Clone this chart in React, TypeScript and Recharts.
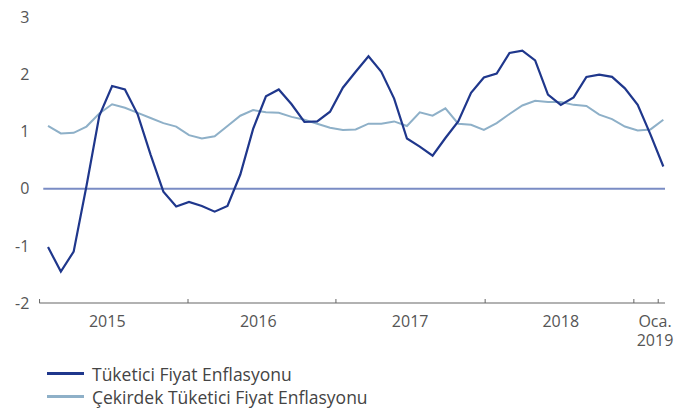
import React from "react";
import { LineChart, Line, XAxis, YAxis, ReferenceLine } from "recharts";

const monthNames = ["Oca", "Şub", "Mar", "Nis", "May", "Haz", "Tem", "Ağu", "Eyl", "Eki", "Kas", "Ara"];
const years = [2015, 2016, 2017, 2018, 2019];

// Tüketici Fiyat Enflasyonu, Oca 2015 - Oca 2019
const cpi = [
  -1.02, -1.45, -1.1, 0.05, 1.28, 1.8, 1.74, 1.3, 0.6, -0.05, -0.31, -0.23,
  -0.3, -0.4, -0.3, 0.25, 1.05, 1.62, 1.74, 1.48, 1.17, 1.18, 1.35, 1.77,
  2.05, 2.32, 2.05, 1.58, 0.88, 0.74, 0.58, 0.89, 1.18, 1.68, 1.95, 2.02,
  2.38, 2.42, 2.25, 1.65, 1.47, 1.6, 1.96, 2.0, 1.96, 1.76, 1.47, 0.95,
  0.39,
];

// Çekirdek Tüketici Fiyat Enflasyonu
const core = [
  1.1, 0.97, 0.98, 1.09, 1.32, 1.48, 1.42, 1.33, 1.24, 1.15, 1.09, 0.94,
  0.88, 0.92, 1.1, 1.28, 1.38, 1.34, 1.33, 1.26, 1.21, 1.14, 1.07, 1.03,
  1.04, 1.14, 1.14, 1.18, 1.1, 1.34, 1.28, 1.41, 1.14, 1.12, 1.03, 1.15,
  1.31, 1.46, 1.54, 1.52, 1.52, 1.47, 1.45, 1.3, 1.22, 1.09, 1.02, 1.04,
  1.21,
];

const yTicks = [-2, -1, 0, 1, 2, 3];
const xLabels = ["2015", "2016", "2017", "2018", "Oca.\n2019"];

// axis positions on the month index scale
const tickMarks = [-0.66, 10.92, 22.46, 34.1, 45.7, 47.6];
const labelAt = [4.62, 16.4, 28.25, 40.0, 47.35];

const data = cpi.map((v, i) => ({
  i,
  month: `${monthNames[i % 12]} ${years[Math.floor(i / 12)]}`,
  cpi: v,
  core: core[i],
}));

const DARK = "#1f378c";
const LIGHT = "#8eb0c8";
const FONT = "'Open Sans', sans-serif";

function XTick(props: any) {
  const { x, y, payload } = props;
  const v = payload.value;
  if (tickMarks.includes(v)) {
    return <line x1={x} x2={x} y1={y - 4} y2={y} stroke="#666" strokeWidth={1} />;
  }
  const idx = labelAt.indexOf(v);
  if (idx < 0) return null;
  const lines = xLabels[idx].split("\n");
  return (
    <text x={x} y={y + 24} textAnchor="middle" fill="#555" fontSize={16} fontFamily={FONT}>
      {lines.map((l, k) => (
        <tspan key={k} x={x} dy={k === 0 ? 0 : 19}>
          {l}
        </tspan>
      ))}
    </text>
  );
}

function LegendRow({ color, label }: { color: string; label: string }) {
  return (
    <div style={{ display: "flex", alignItems: "center", height: 23 }}>
      <div style={{ width: 37, height: 2.5, background: color, marginRight: 8 }} />
      <span style={{ fontSize: 17.5, color: "#444", fontFamily: FONT }}>{label}</span>
    </div>
  );
}

export default function App() {
  return (
    <div style={{ position: "absolute", left: 0, top: 0, width: 674, height: 411, background: "#fff" }}>
      <LineChart width={674} height={411} data={data} margin={{ top: 17.5, right: 9, bottom: 58, left: 0 }}>
        <XAxis
          dataKey="i"
          type="number"
          domain={[-0.68, 48.13]}
          allowDataOverflow
          ticks={[...tickMarks, ...labelAt]}
          interval={0}
          tick={<XTick />}
          tickLine={false}
          tickSize={0}
          tickMargin={0}
          height={50}
          axisLine={{ stroke: "#666", strokeWidth: 1.2 }}
        />
        <YAxis
          domain={[-2, 3]}
          ticks={yTicks}
          width={39.3}
          axisLine={false}
          tickLine={false}
          tickSize={0}
          tickMargin={10}
          tick={{ fill: "#555", fontSize: 16, fontFamily: FONT }}
        />
        <ReferenceLine
          segment={[
            { x: -0.37, y: 0 },
            { x: 48.13, y: 0 },
          ]}
          stroke="#7a8cc4"
          strokeWidth={2}
        />
        <Line
          dataKey="core"
          stroke={LIGHT}
          strokeWidth={2}
          dot={false}
          isAnimationActive={false}
          type="linear"
        />
        <Line
          dataKey="cpi"
          stroke={DARK}
          strokeWidth={2.2}
          dot={false}
          isAnimationActive={false}
          type="linear"
        />
      </LineChart>
      <div style={{ position: "absolute", left: 47, top: 362 }}>
        <LegendRow color={DARK} label="Tüketici Fiyat Enflasyonu" />
        <LegendRow color={LIGHT} label="Çekirdek Tüketici Fiyat Enflasyonu" />
      </div>
    </div>
  );
}
